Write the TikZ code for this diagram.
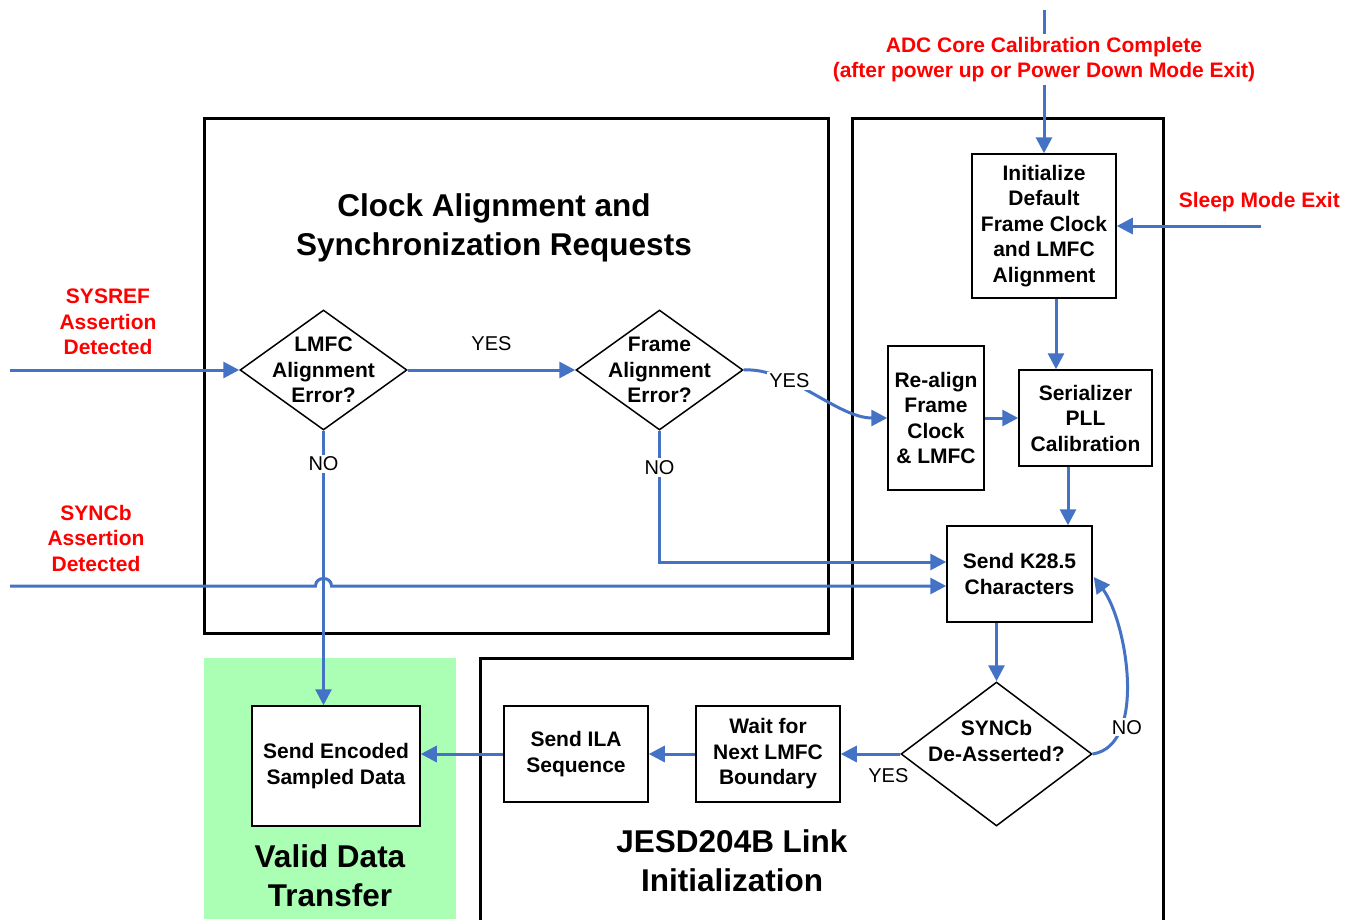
\documentclass[tikz,border=0pt]{standalone}
\usepackage{fontspec}
\setmainfont{Liberation Sans}
\usetikzlibrary{shapes.geometric,arrows.meta,calc}
\definecolor{fblue}{RGB}{68,114,196}
\definecolor{fred}{RGB}{255,0,0}
\definecolor{fgreen}{RGB}{170,255,180}
\begin{document}
\begin{tikzpicture}[x=1pt,y=-1pt,
 box/.style={draw,fill=white,line width=1.5pt,inner sep=0pt,align=center,font=\fontsize{21}{25.5}\selectfont\bfseries},
 dia/.style={diamond,draw,fill=white,line width=1.5pt,inner sep=0pt},
 dtext/.style={align=center,inner sep=0pt,font=\fontsize{21}{25.5}\selectfont\bfseries},
 flow/.style={draw=fblue,line width=3pt,-{Triangle[length=16pt,width=16pt]}},
 bline/.style={draw=fblue,line width=3pt},
 lab/.style={fill=white,inner sep=2pt,font=\fontsize{20}{24}\selectfont},
 redt/.style={text=fred,align=center,inner sep=3pt,font=\fontsize{21}{25.5}\selectfont\bfseries},
 bigframe/.style={draw,line width=3pt},
 ttl/.style={align=center,inner sep=0pt,font=\fontsize{31.5}{39}\selectfont\bfseries}]
\useasboundingbox (0,0) rectangle (1345,919);
% regions
\fill[fgreen] (204,658) rectangle (456,919);
\draw[bigframe] (204,118) rectangle (828,633);
\draw[bigframe] (480,922) -- (480,658) -- (852,658) -- (852,118) -- (1163,118) -- (1163,922);
% titles
\node[ttl] (t1) at (494,228) {Clock Alignment and\\Synchronization Requests};
\node[ttl] (t2) at (732,861) {JESD204B Link\\Initialization};
\node[ttl] (t3) at (330,876) {Valid Data\\Transfer};
% boxes
\node[box,minimum width=144pt,minimum height=144pt] (init) at (1044,226) {Initialize\\Default\\Frame Clock\\and LMFC\\Alignment};
\node[box,minimum width=133pt,minimum height=96pt] (ser) at (1085.5,418) {Serializer\\PLL\\Calibration};
\node[box,minimum width=96pt,minimum height=144pt] (rl) at (936,418) {Re-align\\Frame\\Clock\\\& LMFC};
\node[box,minimum width=145pt,minimum height=96pt] (k28) at (1019.5,574) {Send K28.5\\Characters};
\node[box,minimum width=144pt,minimum height=96pt] (wait) at (768,754) {Wait for\\Next LMFC\\Boundary};
\node[box,minimum width=144pt,minimum height=96pt] (ila) at (576,754) {Send ILA\\Sequence};
\node[box,minimum width=168pt,minimum height=120pt] (enc) at (336,766) {Send Encoded\\Sampled Data};
% diamonds
\node[dia,minimum width=167pt,minimum height=120pt] (lmfc) at (323.5,370) {};
\node[dtext] (lmfct) at (lmfc) {LMFC\\Alignment\\Error?};
\node[dia,minimum width=167pt,minimum height=120pt] (fa) at (659.5,370) {};
\node[dtext] (fat) at (fa) {Frame\\Alignment\\Error?};
\node[dia,minimum width=191pt,minimum height=144pt] (sd) at (996.5,754) {};
\node[dtext] (sdt) at (996.5,741) {SYNCb\\De-Asserted?};
% red inputs
\node[redt] (adc) at (1044,59.5) {ADC Core Calibration Complete\\(after power up or Power Down Mode Exit)};
\node[redt,anchor=east] (sleep) at (1343,202) {Sleep Mode Exit};
\node[redt] (sysref) at (108,322) {SYSREF\\Assertion\\Detected};
\node[redt] (syncb) at (96,538) {SYNCb\\Assertion\\Detected};
\coordinate (adctop) at (1044,10);
\coordinate (sleepend) at (1261,226);
\coordinate (sysin) at (10,370);
\coordinate (syncin) at (10,586);
\coordinate (c1) at (1056,0);
\coordinate (c2) at (1068,0);
% connectors
\draw[bline] (adctop) -- (adc.north);
\draw[flow] (adc.south) -- (init.north);
\draw[flow] (sleepend) -- (init.east);
\draw[flow] (init.south -| c1) -- (ser.north -| c1);
\draw[flow] (sysin) -- (lmfc.west);
\draw[flow] (lmfc.east) -- node[lab,fill=none,yshift=26pt] {YES} (fa.west);
\draw[flow] (lmfc.south) -- node[lab,pos=0.12] {NO} (enc.north -| lmfc.south);
\coordinate (jL) at ($(syncin -| lmfc.south)+(-8,0)$);
\coordinate (jR) at ($(syncin -| lmfc.south)+(8,0)$);
\draw[flow] (syncin) -- (jL) .. controls +(0,-10) and +(0,-10) .. (jR) -- ($(k28.west)+(0,12)$);
\draw[flow] (fa.east) .. controls +(45,-3) and +(-50,0) .. node[lab,pos=0.33] {YES} (rl.west);
\draw[flow] (fa.south) |- node[lab,pos=0.14] {NO} ($(k28.west)+(0,-12)$);
\draw[flow] (rl.east) -- (rl.east -| ser.west);
\draw[flow] (ser.south -| c2) -- (k28.north -| c2);
\draw[flow] (k28.south -| sd.north) -- (sd.north);
\draw[flow] (sd.east) .. controls +(55,-9) and +(33,44) .. node[lab,pos=0.27,xshift=5pt,yshift=-2pt] {NO} ($(k28.east)+(1,3)$);
\draw[flow] (sd.west) -- node[lab,fill=none,pos=0.2,yshift=-22pt] {YES} (wait.east);
\draw[flow] (wait.west) -- (ila.east);
\draw[flow] (ila.west) -- (ila.west -| enc.east);
\end{tikzpicture}
\end{document}
